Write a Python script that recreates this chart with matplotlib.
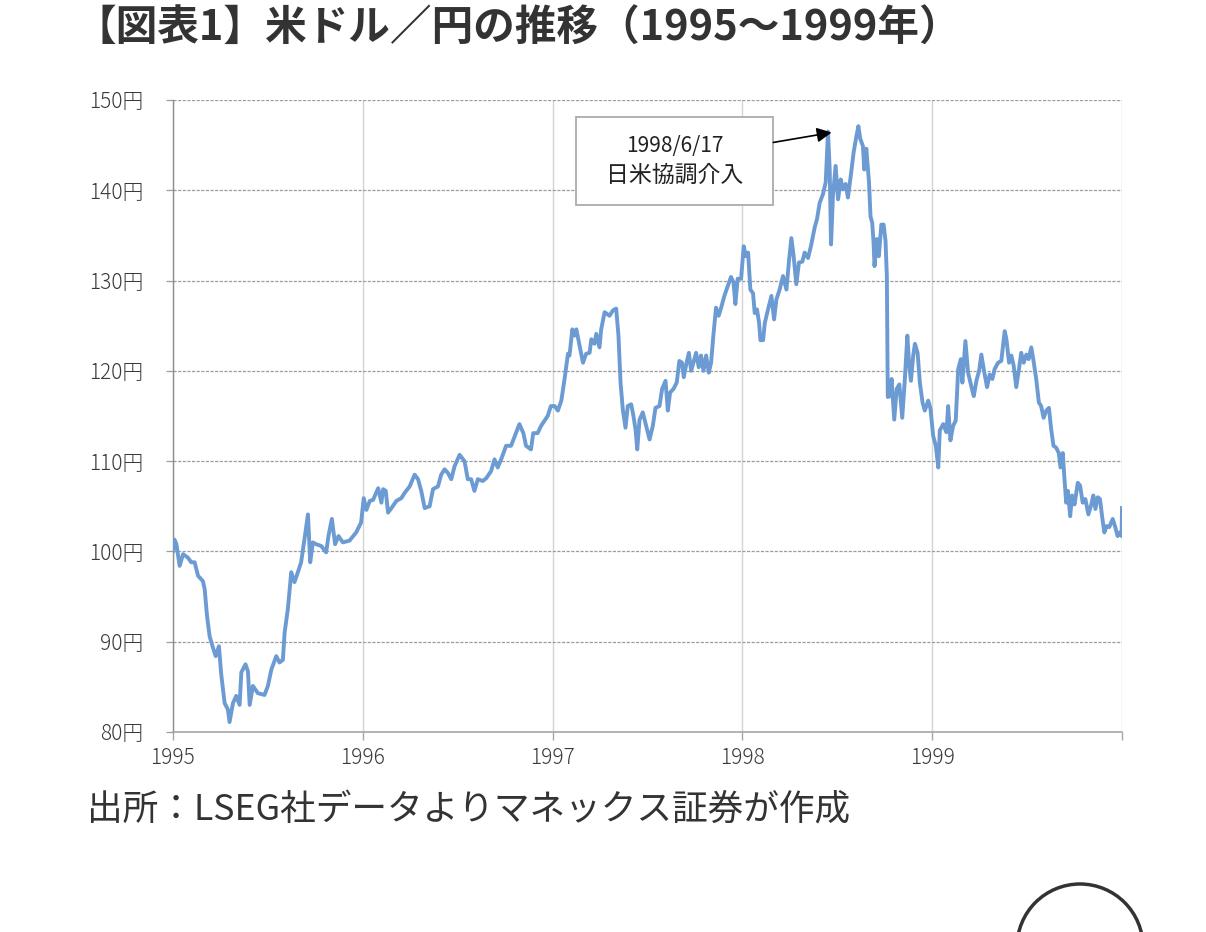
import matplotlib
matplotlib.use("Agg")
import matplotlib.pyplot as plt
from matplotlib.patches import Rectangle, Ellipse
import numpy as np

plt.rcParams['font.family'] = ['Noto Sans CJK JP', 'DejaVu Sans']

# ---- data (decimal year, USD/JPY) ----
years = [
    1995.000, 1995.008, 1995.018, 1995.035, 1995.053, 1995.079, 1995.096, 1995.114, 1995.132, 1995.158,
    1995.167, 1995.179, 1995.193, 1995.211, 1995.225, 1995.242, 1995.254, 1995.272, 1995.289, 1995.298,
    1995.316, 1995.333, 1995.351, 1995.360, 1995.382, 1995.395, 1995.404, 1995.421, 1995.447, 1995.482,
    1995.500, 1995.518, 1995.544, 1995.561, 1995.579, 1995.588, 1995.605, 1995.623, 1995.640, 1995.658,
    1995.675, 1995.693, 1995.711, 1995.723, 1995.737, 1995.754, 1995.781, 1995.807, 1995.819, 1995.837,
    1995.854, 1995.872, 1995.895, 1995.930, 1995.965, 1995.991,
    1996.005, 1996.019, 1996.037, 1996.054, 1996.081, 1996.098, 1996.107, 1996.121, 1996.133, 1996.151,
    1996.177, 1996.203, 1996.221, 1996.247, 1996.273, 1996.291, 1996.308, 1996.326, 1996.352, 1996.370,
    1996.396, 1996.413, 1996.431, 1996.448, 1996.466, 1996.483, 1996.510, 1996.536, 1996.553, 1996.571,
    1996.588, 1996.606, 1996.632, 1996.650, 1996.676, 1996.694, 1996.711, 1996.729, 1996.755, 1996.781,
    1996.807, 1996.825, 1996.846, 1996.860, 1996.886, 1996.898, 1996.921, 1996.939, 1996.974, 1996.991,
    1997.011, 1997.028, 1997.046, 1997.063, 1997.081, 1997.089, 1997.104, 1997.116, 1997.125, 1997.142,
    1997.160, 1997.177, 1997.195, 1997.204, 1997.221, 1997.230, 1997.247, 1997.256, 1997.274, 1997.300,
    1997.318, 1997.335, 1997.347, 1997.358, 1997.370, 1997.384, 1997.396, 1997.414, 1997.426, 1997.437,
    1997.446, 1997.458, 1997.475, 1997.493, 1997.511, 1997.528, 1997.542, 1997.563, 1997.577, 1997.595,
    1997.607, 1997.619, 1997.637, 1997.654, 1997.668, 1997.682, 1997.691, 1997.704, 1997.718, 1997.730,
    1997.742, 1997.756, 1997.770, 1997.782, 1997.795, 1997.809, 1997.823, 1997.835, 1997.847, 1997.861,
    1997.875, 1997.888, 1997.905, 1997.923, 1997.940, 1997.953, 1997.963, 1997.975, 1997.993,
    1998.007, 1998.018, 1998.030, 1998.042, 1998.056, 1998.065, 1998.077, 1998.088, 1998.095, 1998.109,
    1998.118, 1998.135, 1998.153, 1998.167, 1998.179, 1998.196, 1998.214, 1998.232, 1998.246, 1998.258,
    1998.270, 1998.284, 1998.298, 1998.316, 1998.328, 1998.346, 1998.363, 1998.381, 1998.393, 1998.407,
    1998.425, 1998.439, 1998.451, 1998.460, 1998.467, 1998.477, 1998.491, 1998.504, 1998.518, 1998.530,
    1998.544, 1998.556, 1998.574, 1998.586, 1998.600, 1998.611, 1998.621, 1998.635, 1998.642, 1998.653,
    1998.667, 1998.675, 1998.684, 1998.691, 1998.696, 1998.709, 1998.719, 1998.732, 1998.744, 1998.754,
    1998.761, 1998.766, 1998.778, 1998.786, 1998.800, 1998.813, 1998.827, 1998.842, 1998.856, 1998.869,
    1998.879, 1998.888, 1998.900, 1998.909, 1998.923, 1998.935, 1998.949, 1998.961, 1998.979, 1998.991,
    1999.005, 1999.019, 1999.032, 1999.040, 1999.058, 1999.075, 1999.084, 1999.096, 1999.110, 1999.124,
    1999.137, 1999.151, 1999.159, 1999.175, 1999.189, 1999.207, 1999.219, 1999.233, 1999.247, 1999.259,
    1999.273, 1999.289, 1999.303, 1999.317, 1999.329, 1999.347, 1999.364, 1999.373, 1999.382, 1999.391,
    1999.405, 1999.417, 1999.429, 1999.443, 1999.457, 1999.469, 1999.482, 1999.496, 1999.508, 1999.522,
    1999.534, 1999.548, 1999.562, 1999.574, 1999.587, 1999.601, 1999.615, 1999.627, 1999.639, 1999.653,
    1999.667, 1999.676, 1999.688, 1999.697, 1999.706, 1999.715, 1999.727, 1999.737, 1999.750, 1999.767,
    1999.779, 1999.793, 1999.807, 1999.823, 1999.837, 1999.849, 1999.860, 1999.872, 1999.884, 1999.895,
    1999.907, 1999.919, 1999.933, 1999.951, 1999.963, 1999.977, 1999.989, 1999.998, 2000.000,
]
usdjpy = [
    100.0, 101.3, 100.8, 98.4, 99.7, 99.3, 98.8, 98.8, 97.3, 96.7,
    95.8, 92.9, 90.6, 89.3, 88.4, 89.5, 86.4, 83.2, 82.5, 81.1,
    83.2, 84.0, 83.0, 86.6, 87.5, 86.7, 83.0, 85.1, 84.3, 84.1,
    85.1, 86.9, 88.4, 87.7, 88.0, 91.0, 93.6, 97.7, 96.6, 97.7,
    98.8, 101.4, 104.1, 98.8, 101.0, 100.8, 100.6, 99.9, 101.7, 103.6,
    100.8, 101.7, 101.0, 101.2, 102.1, 103.2,
    105.9, 104.6, 105.6, 105.7, 107.0, 105.4, 106.9, 106.7, 104.3, 104.8,
    105.6, 105.9, 106.5, 107.2, 108.5, 108.0, 106.7, 104.8, 105.0, 106.9,
    107.2, 108.5, 109.1, 108.7, 108.0, 109.4, 110.7, 110.0, 108.0, 108.0,
    106.7, 108.0, 107.8, 108.1, 108.9, 110.2, 109.3, 110.2, 111.7, 111.7,
    113.1, 114.1, 113.1, 111.7, 111.3, 113.1, 113.1, 113.9, 115.0, 116.1,
    116.1, 115.6, 116.7, 119.1, 121.9, 121.7, 124.6, 123.9, 124.6, 122.8,
    120.9, 121.9, 122.0, 123.5, 123.0, 124.1, 122.6, 124.6, 126.5, 126.1,
    126.7, 126.9, 123.9, 118.7, 115.7, 113.7, 116.1, 116.3, 115.0, 113.5,
    111.3, 114.6, 115.4, 113.9, 112.4, 113.9, 115.9, 116.1, 118.0, 118.9,
    115.6, 117.6, 118.0, 118.7, 121.1, 120.9, 119.3, 120.7, 122.0, 120.0,
    120.9, 122.0, 120.4, 121.7, 120.0, 121.7, 119.8, 120.9, 123.9, 127.0,
    126.1, 127.0, 128.3, 129.4, 130.4, 129.8, 127.4, 130.2, 130.2,
    133.8, 132.7, 133.1, 129.0, 128.6, 126.4, 126.8, 125.3, 123.4, 123.4,
    125.3, 126.8, 128.3, 125.7, 127.9, 129.0, 130.5, 129.0, 132.3, 134.7,
    132.7, 129.6, 132.0, 132.1, 133.1, 132.5, 134.0, 135.9, 136.8, 138.6,
    139.6, 140.9, 146.5, 142.3, 134.0, 139.4, 142.7, 139.0, 141.2, 140.1,
    140.7, 139.2, 142.1, 144.2, 145.9, 147.1, 145.7, 144.9, 142.3, 144.6,
    140.9, 137.1, 136.4, 134.2, 131.6, 134.6, 132.7, 136.2, 136.2, 134.4,
    130.5, 117.1, 117.2, 119.1, 114.6, 118.0, 118.5, 114.8, 119.1, 123.9,
    120.6, 118.9, 121.7, 123.0, 122.0, 118.7, 116.5, 115.6, 116.7, 115.8,
    112.8, 111.7, 109.3, 113.4, 114.1, 113.2, 116.1, 112.3, 113.9, 114.5,
    120.2, 121.3, 118.7, 123.3, 119.8, 118.2, 117.2, 118.9, 120.0, 121.8,
    120.0, 118.2, 119.6, 119.1, 120.2, 120.9, 121.1, 122.8, 124.4, 123.5,
    120.9, 121.7, 120.6, 118.2, 120.2, 122.0, 120.9, 121.8, 121.3, 122.6,
    121.1, 119.1, 116.5, 116.1, 114.8, 115.6, 115.9, 113.5, 111.7, 111.5,
    110.9, 109.3, 110.9, 108.0, 105.4, 106.7, 103.9, 106.2, 105.2, 107.6,
    107.3, 105.4, 105.8, 104.1, 105.1, 106.2, 104.7, 106.0, 105.8, 103.9,
    102.1, 102.8, 102.7, 103.6, 102.8, 101.7, 102.1, 101.7, 104.8,
]

tick_years = [1995, 1996, 1997, 1998, 1999, 2000]
tick_year_labels = ['1995', '1996', '1997', '1998', '1999', '']
y_ticks = [80, 90, 100, 110, 120, 130, 140, 150]
y_tick_labels = [f'{v}円' for v in y_ticks]

title = '【図表1】米ドル／円の推移（1995〜1999年）'
source = '出所：LSEG社データよりマネックス証券が作成'
note_date = '1998/6/17'
note_text = '日米協調介入'
note_target = (1998.470, 146.4)

# ---- figure ----
fig = plt.figure(figsize=(12.06, 9.32), dpi=100)
ax = fig.add_axes([173/1206, 1-732/932, (1122-173)/1206, (732-100)/932])

ax.plot(years, usdjpy, color='#6B9BD2', lw=2.8, solid_joinstyle='round', zorder=3)

ax.set_xlim(1995, 2000)
ax.set_ylim(80, 150)
ax.set_xticks(tick_years)
ax.set_xticklabels(tick_year_labels)
ax.set_yticks(y_ticks)
ax.set_yticklabels(y_tick_labels)

ax.grid(axis='y', linestyle=(0, (2.5, 1.2)), color='#9c9c9c', lw=0.9, zorder=1)
ax.grid(axis='x', linestyle='-', color='#d4d4d4', lw=1.0, zorder=1)

for s in ['top', 'right']:
    ax.spines[s].set_visible(False)
ax.spines['left'].set_color('#8c8c8c')
ax.spines['bottom'].set_color('#a6a6a6')
ax.spines['left'].set_linewidth(1.0)
ax.spines['bottom'].set_linewidth(1.2)

ax.tick_params(axis='y', length=5, color='#9c9c9c', width=0.9, pad=16,
               labelsize=15, labelcolor='#3a3a3a')
ax.tick_params(axis='x', length=6, color='#a6a6a6', width=1.0, pad=5,
               labelsize=15, labelcolor='#3a3a3a')
for lab in ax.get_yticklabels() + ax.get_xticklabels():
    lab.set_fontweight('light')

# annotation box
ax.add_patch(Rectangle((1997.121, 138.4), 1.042, 9.7, facecolor='white',
                       edgecolor='#ababab', lw=1.3, zorder=4))
ax.text(1997.642, 144.9, note_date, ha='center', va='center', fontsize=15,
        color='#222222', zorder=5)
ax.text(1997.642, 141.6, note_text, ha='center', va='center', fontsize=16.5,
        color='#222222', zorder=5)
ax.annotate('', xy=note_target, xytext=(1998.163, 145.3),
            arrowprops=dict(arrowstyle='-|>', color='black', lw=1.2,
                            mutation_scale=22, shrinkA=0, shrinkB=0), zorder=5)

fig.text(74/1206, 1-29/932, title, fontsize=30, fontweight='bold',
         color='#333333', ha='left', va='center')
fig.text(87/1206, 1-810/932, source, fontsize=25.7, color='#333333',
         ha='left', va='center')

fig.add_artist(Ellipse((1080/1206, 1-947/932), 126/1206, 126/932,
                       transform=fig.transFigure, facecolor='none',
                       edgecolor='#333333', lw=2.5))

fig.savefig('out.png', dpi=100)
